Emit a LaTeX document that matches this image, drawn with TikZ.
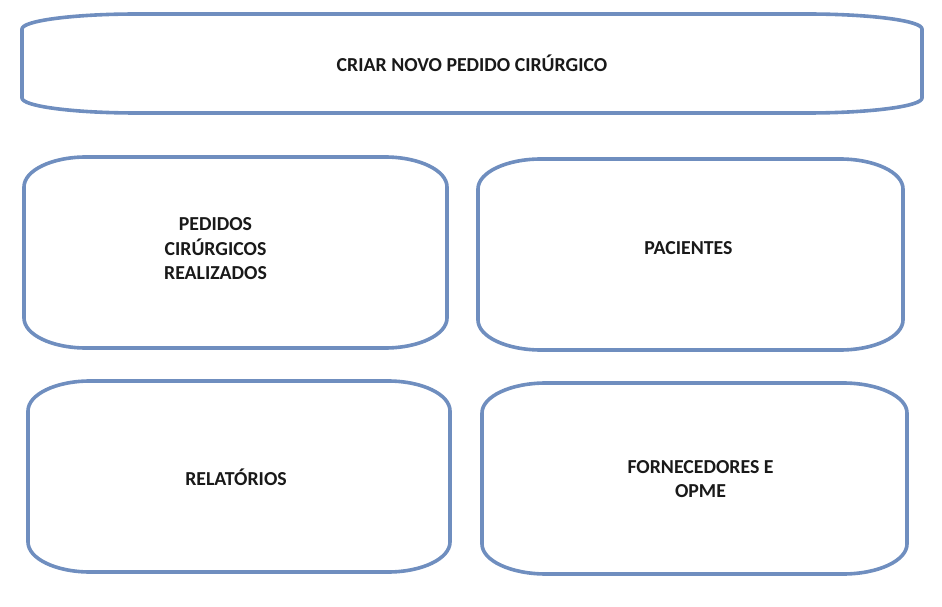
\documentclass[tikz,border=0pt]{standalone}
\usepackage{fontspec}
\setmainfont{Carlito}
\definecolor{boxblue}{RGB}{111,142,191}
\begin{document}
\begin{tikzpicture}[x=1pt,y=1pt,every node/.style={font=\bfseries\fontsize{19.8}{24.5}\selectfont},
  area/.style={inner sep=0pt,outer sep=0pt},
  boxline/.style={draw=boxblue,line width=3.6pt,line join=round},
  label/.style={align=center,text=black!90}]
\useasboundingbox (0,0) rectangle (942,606);
% box areas (filled in below)
\node[area,minimum width=900,minimum height=99] (criar) at (472,542.5) {};
\node[area,minimum width=423,minimum height=191] (pedidos) at (235.5,353.5) {};
\node[area,minimum width=425,minimum height=191] (pacientes) at (690.5,351.5) {};
\node[area,minimum width=422,minimum height=191] (relatorios) at (239,129.5) {};
\node[area,minimum width=425,minimum height=191] (fornecedores) at (694.5,127.5) {};
% outlines with flat elliptic corners
\foreach \n/\rx/\ry in {criar/115/15,pedidos/62/30,pacientes/63/30,relatorios/62/30,fornecedores/64/30}
  \draw[boxline] ([xshift=\rx pt]\n.north west) -- ([xshift=-\rx pt]\n.north east)
    arc[start angle=90,end angle=0,x radius=\rx pt,y radius=\ry pt]
    -- ([yshift=\ry pt]\n.south east)
    arc[start angle=0,end angle=-90,x radius=\rx pt,y radius=\ry pt]
    -- ([xshift=\rx pt]\n.south west)
    arc[start angle=270,end angle=180,x radius=\rx pt,y radius=\ry pt]
    -- ([yshift=-\ry pt]\n.north west)
    arc[start angle=180,end angle=90,x radius=\rx pt,y radius=\ry pt] -- cycle;
% texts
\node[label,anchor=base] (criar-txt) at (472,534) {CRIAR NOVO PEDIDO CIRÚRGICO};
\node[label] (pedidos-txt) at (215.5,357) {PEDIDOS\\CIRÚRGICOS\\REALIZADOS};
\node[label,anchor=base] (pacientes-txt) at (688.5,351) {PACIENTES};
\node[label,anchor=base] (relatorios-txt) at (236,121) {RELATÓRIOS};
\node[label] (fornecedores-txt) at (700.5,127) {FORNECEDORES E\\OPME};
\end{tikzpicture}
\end{document}
